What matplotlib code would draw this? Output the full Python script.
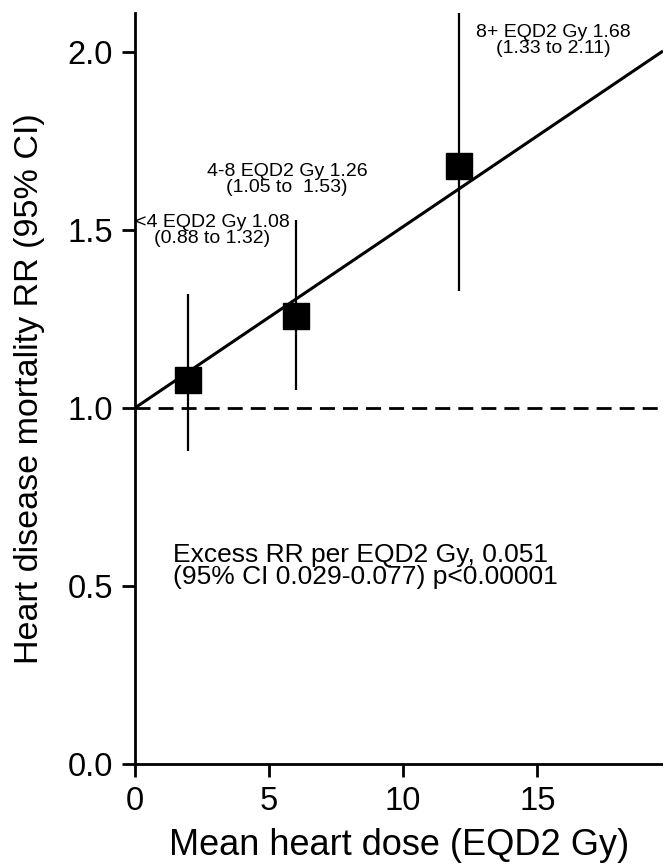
import matplotlib
matplotlib.use('Agg')
import matplotlib.pyplot as plt
import numpy as np

plt.rcParams['font.family'] = ['Liberation Sans', 'DejaVu Sans']

# dose groups: mean heart dose, RR and 95% CI
dose = [2.0, 6.0, 12.1]
rr = [1.08, 1.26, 1.68]
ci_low = [0.88, 1.05, 1.33]
ci_high = [1.32, 1.53, 2.11]
group_labels = [
    '<4 EQD2 Gy 1.08\n(0.88 to 1.32)',
    '4-8 EQD2 Gy 1.26\n(1.05 to  1.53)',
    '8+ EQD2 Gy 1.68\n(1.33 to 2.11)',
]
label_pos = [(2.88, 1.50), (5.68, 1.643), (15.6, 2.034)]

excess_rr = 0.051
fit_text = 'Excess RR per EQD2 Gy, 0.051\n(95% CI 0.029-0.077) p<0.00001'

x_ticks = [0, 5, 10, 15]
y_ticks = [0.0, 0.5, 1.0, 1.5, 2.0]

fig = plt.figure(figsize=(6.63, 8.66), dpi=100)
ax = fig.add_axes([0.203, 0.1178, 0.797, 0.867])
ax.set_xlim(0, 19.68)
ax.set_ylim(0, 2.11)

# reference line at RR = 1
ax.axhline(1.0, color='black', lw=2, linestyle=(0, (5.4, 2.9)), zorder=1)

# linear excess relative risk fit
xs = np.array(ax.get_xlim())
ax.plot(xs, 1 + excess_rr * xs, color='black', lw=2.2, zorder=2,
        solid_capstyle='butt')

rr_arr = np.array(rr)
yerr = [rr_arr - np.array(ci_low), np.array(ci_high) - rr_arr]
ax.errorbar(dose, rr, yerr=yerr, fmt='s', color='black', ms=18.5,
            elinewidth=1.6, capsize=0, zorder=3, clip_on=False)

for txt, (px, py) in zip(group_labels, label_pos):
    ax.text(px, py, txt, ha='center', va='center', fontsize=14,
            linespacing=0.9)

ax.text(1.44, 0.557, fit_text, ha='left', va='center', fontsize=19,
        linespacing=0.88)

for side in ['top', 'right']:
    ax.spines[side].set_visible(False)
for side in ['left', 'bottom']:
    ax.spines[side].set_linewidth(2)

ax.set_xticks(x_ticks)
ax.set_yticks(y_ticks)
ax.set_yticklabels(['%.1f' % v for v in y_ticks])
ax.tick_params(direction='out', length=9.5, width=2, labelsize=23.5, pad=6)

ax.set_xlabel('Mean heart dose (EQD2 Gy)', fontsize=26)
ax.set_ylabel('Heart disease mortality RR (95% CI)', fontsize=24.5)
ax.xaxis.set_label_coords(0.5, -0.085)
ax.yaxis.set_label_coords(-0.17, 0.5)
ax.xaxis.label.set_va('top')

fig.savefig('out.png', dpi=100)
